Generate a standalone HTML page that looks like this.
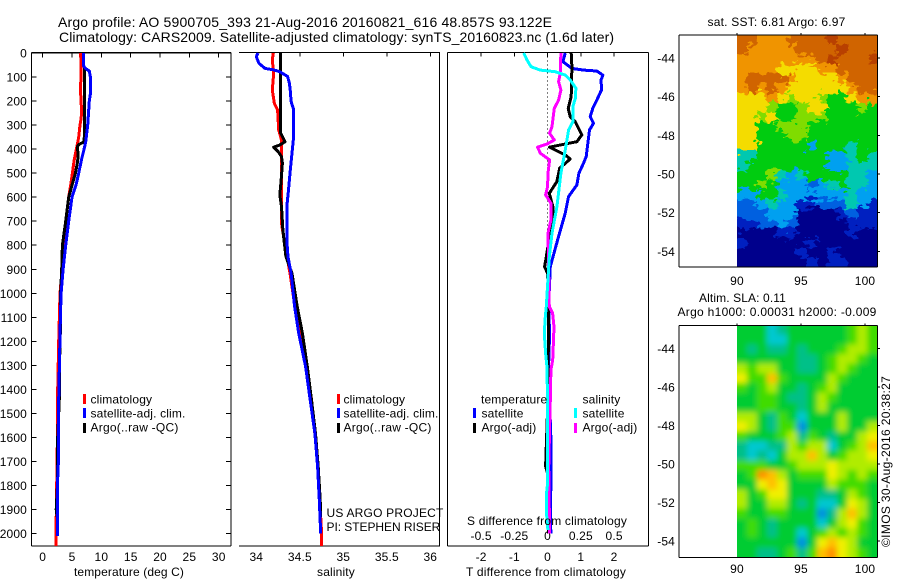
<!DOCTYPE html>
<html lang="en">
<head>
<meta charset="utf-8">
<title>Argo profile</title>
<style>
html,body{margin:0;padding:0;background:#fff;}
svg{display:block;}
text{font-family:"Liberation Sans",sans-serif;font-size:12px;fill:#000;letter-spacing:0.15px;}
.title{font-size:14px;letter-spacing:0;}
</style>
</head>
<body>
<svg id="chart" width="900" height="580" viewBox="0 0 900 580" xmlns="http://www.w3.org/2000/svg">
  <defs>
    <clipPath id="sstClip"><rect x="737" y="35" width="140" height="232"/></clipPath>
    <clipPath id="slaClip"><rect x="737" y="325" width="140" height="232"/></clipPath>
    <filter id="slaBlur" filterUnits="userSpaceOnUse" x="700" y="290" width="220" height="300"><feGaussianBlur stdDeviation="3"/></filter>
    <filter id="sstJag" filterUnits="userSpaceOnUse" x="700" y="5" width="210" height="295" color-interpolation-filters="sRGB">
      <feTurbulence type="fractalNoise" baseFrequency="0.14 0.22" numOctaves="2" seed="3" result="noise"/>
      <feDisplacementMap in="SourceGraphic" in2="noise" scale="16" xChannelSelector="R" yChannelSelector="G"/>
    </filter>
  </defs>
  <text class="title" x="58" y="27" textLength="494" lengthAdjust="spacing">Argo profile: AO 5900705_393 21-Aug-2016 20160821_616 48.857S 93.122E</text>
  <text class="title" x="59" y="42" textLength="555" lengthAdjust="spacing">Climatology: CARS2009. Satellite-adjusted climatology: synTS_20160823.nc (1.6d later)</text>

  <g id="heatmaps"></g>
  <g id="axes"></g>
  <g id="series"></g>

  <text x="74" y="576" textLength="110" lengthAdjust="spacing">temperature (deg C)</text>
  <text x="336" y="576" text-anchor="middle">salinity</text>
  <text x="466" y="576" textLength="160" lengthAdjust="spacing">T difference from climatology</text>
  <text x="467" y="525" textLength="160" lengthAdjust="spacing">S difference from climatology</text>

  <g>
    <rect x="83" y="394" width="3" height="10" fill="#f00"/><text x="90.5" y="403.5">climatology</text>
    <rect x="83" y="408" width="3" height="10" fill="#00f"/><text x="90.5" y="417.5" textLength="95" lengthAdjust="spacing">satellite-adj. clim.</text>
    <rect x="83" y="423" width="3" height="10" fill="#000"/><text x="90.5" y="431.5" textLength="88" lengthAdjust="spacing">Argo(..raw -QC)</text>
  </g>
  <g>
    <rect x="337" y="394" width="3" height="10" fill="#f00"/><text x="343.5" y="403.5">climatology</text>
    <rect x="337" y="408" width="3" height="10" fill="#00f"/><text x="343.5" y="417.5" textLength="95" lengthAdjust="spacing">satellite-adj. clim.</text>
    <rect x="337" y="423" width="3" height="10" fill="#000"/><text x="343.5" y="431.5" textLength="88" lengthAdjust="spacing">Argo(..raw -QC)</text>
  </g>
  <g>
    <text x="481" y="403.5">temperature</text>
    <rect x="473" y="408" width="3" height="10" fill="#00f"/><text x="481.5" y="417.5">satellite</text>
    <rect x="473" y="423" width="3" height="10" fill="#000"/><text x="481.5" y="431.5">Argo(-adj)</text>
    <text x="582.5" y="403.5">salinity</text>
    <rect x="574" y="408" width="3" height="10" fill="#0ff"/><text x="582.5" y="417.5">satellite</text>
    <rect x="574" y="423" width="3" height="10" fill="#f0f"/><text x="582.5" y="431.5">Argo(-adj)</text>
  </g>
  <text x="326.5" y="517" textLength="117" lengthAdjust="spacing">US ARGO PROJECT</text>
  <text x="326.5" y="531" textLength="114" lengthAdjust="spacing">PI: STEPHEN RISER</text>

  <text x="707.5" y="26" textLength="138" lengthAdjust="spacing">sat. SST: 6.81 Argo: 6.97</text>
  <text x="699" y="302" textLength="87" lengthAdjust="spacing">Altim. SLA: 0.11</text>
  <text x="677.5" y="316" textLength="199" lengthAdjust="spacing">Argo h1000: 0.00031 h2000: -0.009</text>
  <text transform="translate(890,547) rotate(-90)" textLength="171" lengthAdjust="spacing">©IMOS 30-Aug-2016 20:38:27</text>
</svg>

<script>
// ---------- depth ticks ----------
const depthTicks = [0,100,200,300,400,500,600,700,800,900,1000,1100,1200,1300,1400,1500,1600,1700,1800,1900,2000];
const tempTicks = [0,5,10,15,20,25,30];
const salTicks = [34,34.5,35,35.5,36];
const salTickLabels = ['34','34.5','35','35.5','36'];
const tDiffTicks = [-2,-1,0,1,2];
const sDiffTicks = [-0.5,-0.25,0,0.25,0.5];
const sDiffTickLabels = ['-0.5','-0.25','0','0.25','0.5'];
const lonTicks = [90,95,100];
const latTicks = [-44,-46,-48,-50,-52,-54];

// ---------- temperature panel ----------
const tempClimP = [0,100,150,250,280,300,350,400,450,500,550,600,700,800,900,1000,1200,1400,1600,1800,2000,2052];
const tempClimV = [6.48,6.53,6.42,6.65,6.5,6.36,6.14,5.74,5.34,5.06,4.77,4.43,3.92,3.52,3.3,2.95,2.73,2.56,2.5,2.39,2.27,2.27];
const tempSatP = [0,55,65,75,100,170,200,300,370,400,440,500,550,600,700,800,900,1000,1100,1300,1500,1700,1800,2010];
const tempSatV = [6.99,6.99,7.33,7.95,8.13,8.13,7.95,7.67,7.33,7.05,6.65,6.14,5.68,5.0,4.43,3.92,3.47,3.13,3.01,2.84,2.67,2.67,2.5,2.5];
const tempArgoP = [60,300,370,380,390,420,450,500,600,700,800,900,1000,1200,1300,1400,1600,1800,1900,1930];
const tempArgoV = [7.1,7.16,7.05,6.19,5.91,6.02,5.97,5.57,4.43,3.92,3.35,3.24,3.05,2.98,2.84,2.9,2.55,2.5,2.3,2.45];

// ---------- salinity panel ----------
const salClimP = [0,29,85,154,209,237,320,362,500,570,640,709,778,917,1055,1166,1305,1444,1721,1999,2052];
const salClimV = [34.195,34.184,34.2,34.184,34.207,34.245,34.257,34.29,34.29,34.29,34.287,34.29,34.32,34.387,34.444,34.51,34.578,34.636,34.709,34.75,34.75];
const salSatP = [0,15,43,64,70,78,98,126,154,202,230,362,417,500,570,640,778,848,917,1055,1166,1305,1444,1583,1721,1860,1999];
const salSatV = [34.02,34.0,34.03,34.1,34.195,34.27,34.36,34.38,34.39,34.4,34.425,34.425,34.41,34.387,34.37,34.35,34.35,34.364,34.4,34.44,34.487,34.567,34.62,34.674,34.705,34.724,34.74];
const salArgoP = [0,334,355,369,383,392,410,431,459,542,591,639,737,778,847,917,1055,1166,1305,1444,1583,1721,1860,1930];
const salArgoV = [34.28,34.28,34.31,34.33,34.27,34.2,34.25,34.29,34.3,34.283,34.27,34.29,34.306,34.318,34.34,34.41,34.47,34.53,34.586,34.635,34.68,34.712,34.735,34.74];

// ---------- difference panel ----------
const dTempSatP = [0,36,64,71,75,92,112,154,196,230,265,293,320,431,459,500,549,598,667,778,889,1055,1166,1305,1610,1790,1930,2000];
const dTempSatV = [0.53,0.46,0.73,1.08,1.48,1.66,1.61,1.62,1.48,1.36,1.28,1.38,1.26,1.16,1.08,0.94,0.88,0.63,0.53,0.3,0.08,0.03,0.06,0.03,0.1,0.1,0.08,0.1];
const dTempArgoP = [0,57,182,230,265,286,341,369,383,392,424,441,480,535,584,640,695,737,848,889,917,1055,1444,1720,1750,2000];
const dTempArgoV = [0.71,0.73,0.71,0.62,0.68,0.83,1.03,0.88,0.38,0.06,0.53,0.68,0.36,0.28,0.05,0.16,0.18,0.08,-0.04,-0.09,0,0.03,0.01,-0.06,0,0.03];
const dSalArgoP = [0,85,119,154,196,230,306,334,362,379,392,417,445,500,556,590,625,695,750,917,1055,1083,1139,1278,1319,1444,1721,1999];
const dSalArgoV = [0.1,0.095,0.083,0.1,0.083,0.05,0.033,0.015,0.05,-0.005,-0.075,-0.055,0.015,0.003,0,-0.015,0.025,0.025,0.003,0.008,0.0125,0.0376,0.048,0.038,0.025,0.02,0.008,0.015];
const dSalSatP = [0,29,57,71,78,92,112,147,189,223,286,320,403,500,640,750,848,1055,1097,1166,1250,1305,1444,1791,1833,1916,1985];
const dSalSatV = [-0.18,-0.155,-0.125,-0.055,0.058,0.133,0.17,0.213,0.208,0.19,0.19,0.158,0.133,0.1,0.07,0.033,0.0125,-0.01,-0.0175,-0.025,-0.015,-0.005,0,0,-0.008,-0.008,0.002];

// ---------- heatmap values (colour-ramp levels) ----------
const sstLevels = [
 [9,9,8,8,8,9,9,9,9,10,9,9,9,9],
 [9,8,8,8,8,8,9,9,9,9,10,9,9,9],
 [8,8,8,8,8,8,8,8,9,10,9,9,9,10],
 [8,8,8,8,7,7,7,7,8,8,9,9,9,9],
 [8,9,9,9,9,8,7,7,7,7,8,9,9,9],
 [8,9,8,9,8,7,7,7,7,7,7,8,9,9],
 [7,7,7,8,7,6,7,7,6,5,5,7,8,8],
 [7,7,7,6,5,5,6,7,7,5,5,5,6,5],
 [7,7,6,7,5,5,6,6,6,5,5,5,5,5],
 [7,7,5,5,6,6,6,5,5,5,5,5,5,5],
 [7,7,5,5,5,6,6,5,5,5,5,5,5,5],
 [7,7,5,5,5,5,5,3,5,5,5,4,5,5],
 [4,4,5,5,5,5,5,5,5,3,3,4,5,4],
 [4,5,5,5,5,5,5,5,5,3,3,4,4,4],
 [5,5,5,6,4,3,4,5,5,5,5,4,4,3],
 [5,5,6,5,3,3,3,2,3,4,5,4,4,3],
 [3,3,5,5,4,3,3,3,3,3,3,4,3,3],
 [2,2,3,4,3,3,1,1,2,2,2,4,3,1],
 [2,2,2,3,3,3,0,0,0,0,1,2,1,1],
 [1,1,2,2,3,2,0,0,0,0,0,1,1,1],
 [0,0,0,0,1,1,0,0,0,0,0,1,0,0],
 [1,0,0,0,0,0,0,1,0,0,0,0,0,0],
 [0,0,0,0,0,0,1,0,0,1,0,0,0,0],
 [0,0,0,0,0,0,0,1,0,1,1,0,0,0]
];
const slaLevels = [
 [3,3,3,1,2,3,3,3,3,3,3,4,5,4],
 [3,3,3,1,1,3,3,3,3,3,3,4,5,4],
 [3,2,3,2,2,3,2,3,3,3,4,5,5,4],
 [3,3,3,3,3,3,2,2,3,4,5,5,4,3],
 [5,4,5,5,3,3,2,2,3,4,5,4,3,3],
 [6,4,4,7,4,3,3,3,3,5,4,3,3,3],
 [4,3,4,5,3,3,2,3,4,5,3,3,3,3],
 [3,3,4,4,3,2,2,3,5,4,3,3,3,3],
 [3,3,4,4,3,3,2,3,5,3,3,3,3,3],
 [5,5,3,2,4,3,1,3,3,3,5,3,3,3],
 [6,5,3,2,4,4,0,3,3,3,5,3,3,5],
 [4,3,3,3,4,5,2,4,3,2,3,3,5,6],
 [2,1,1,2,2,5,4,5,5,1,3,4,5,7],
 [2,1,2,1,3,5,5,7,5,3,4,5,5,6],
 [4,4,4,3,3,4,5,5,5,6,5,5,5,5],
 [3,4,8,7,5,3,4,4,4,6,5,4,5,4],
 [3,3,6,7,6,3,3,3,3,5,4,4,4,3],
 [5,3,4,6,6,3,3,3,2,2,3,5,4,3],
 [5,3,3,5,5,3,2,3,1,1,3,6,5,3],
 [4,3,3,4,4,3,3,3,0,2,5,7,5,3],
 [3,4,3,2,3,3,3,3,1,3,5,6,4,3],
 [3,4,3,2,3,3,1,3,4,5,4,5,4,3],
 [3,3,3,3,3,3,0,3,6,7,6,5,3,3],
 [3,3,2,2,3,4,2,4,7,8,6,5,4,3]
];
const sstRamp = ['#00008c','#0020c0','#0060e0','#00a0f0','#00c8b0','#00cc10','#80dc00','#f4dc00','#f09400','#d06400','#b84000'];
const slaRamp = ['#0090e0','#00c8d0','#00c088','#00cc30','#40dc00','#b0ec00','#f0f000','#ffc000','#ff9000'];

// ---------- axis functions ----------
function yDepth(p){ return 53 + 0.2403 * p; }
function xTemp(t){ return 42.7 + 5.867 * t; }
function xSal(s){ return 256.3 + 87 * (s - 34); }
function xDT(t){ return 547.6 + 33.25 * t; }
function xDS(s){ return 547.6 + 133 * s; }
function xLon(l){ return 737 + 12.8 * (l - 90); }
function ySst(lat){ return 58 + 19.33 * (-44 - lat); }
function ySla(lat){ return 348.3 + 19.27 * (-44 - lat); }

const NS = 'http://www.w3.org/2000/svg';
const axesG = document.getElementById('axes');
const seriesG = document.getElementById('series');
const mapsG = document.getElementById('heatmaps');

function mk(tag, attrs, parent){
  const el = document.createElementNS(NS, tag);
  for (const k in attrs) el.setAttribute(k, attrs[k]);
  parent.appendChild(el);
  return el;
}
function line(x1,y1,x2,y2,w,name){
  const el = mk('line',{x1:x1,y1:y1,x2:x2,y2:y2,stroke:'#000','stroke-width':w,'shape-rendering':'crispEdges'},axesG);
  
  
  return el;
}
function label(x,y,str,anchor,name){
  const el = mk('text',{x:x,y:y,'text-anchor':anchor},axesG);
  el.textContent = str;
  
  
  return el;
}
function profile(pArr,vArr,xf,color,width,name){
  const pts = pArr.map((p,i)=>xf(vArr[i]).toFixed(1)+','+yDepth(p).toFixed(1)).join(' ');
  const el = mk('polyline',{points:pts,fill:'none',stroke:color,'stroke-width':width,'shape-rendering':'crispEdges','stroke-linejoin':'round'},seriesG);
  
  
  return el;
}

// ---------- panel frames ----------
const panelTop = 52.5, panelBot = 546;
// temperature panel
line(31.5,panelTop,231,panelTop,1.5,'temperature-top-axis');
line(31.5,panelBot,231,panelBot,1,'temperature-bottom-axis');
line(31.5,panelTop,31.5,panelBot,1,'temperature-left-axis');
line(231,panelTop,231,panelBot,1,'temperature-right-axis');
depthTicks.forEach(p=>{
  line(31.5,yDepth(p),36.5,yDepth(p),1,'temperature-depth-tick');
  line(226,yDepth(p),231,yDepth(p),1,'temperature-depth-tick-right');
  label(27,yDepth(p)+4.5,String(p),'end','depth-tick-label');
});
tempTicks.forEach(t=>{
  line(xTemp(t),panelTop,xTemp(t),panelTop+5,1,'temperature-tick');
  label(xTemp(t),561,String(t),'middle','temperature-tick-label');
});
// salinity panel
line(239,panelTop,440,panelTop,1,'salinity-top-axis');
line(239,panelBot,440,panelBot,1,'salinity-bottom-axis');
line(439.7,panelTop,439.7,panelBot,1,'salinity-right-axis');
salTicks.forEach((s,i)=>{
  line(xSal(s),panelTop,xSal(s),panelTop+4,1,'salinity-tick');
  label(xSal(s),561,salTickLabels[i],'middle','salinity-tick-label');
});
// difference panel
line(447.5,panelTop,648.5,panelTop,1,'difference-top-axis');
line(447.5,panelBot,648.5,panelBot,1,'difference-bottom-axis');
line(447.5,panelTop,447.5,panelBot,1,'difference-left-axis');
line(648.5,panelTop,648.5,panelBot,1,'difference-right-axis');
tDiffTicks.forEach(t=>{
  line(xDT(t),panelTop,xDT(t),panelTop+4,1,'t-difference-tick');
  label(xDT(t),561,String(t),'middle','t-difference-tick-label');
});
sDiffTicks.forEach((s,i)=>{
  label(xDS(s),540,sDiffTickLabels[i],'middle','s-difference-tick-label');
});
const zeroLine = mk('line',{x1:xDT(0),y1:panelTop,x2:xDT(0),y2:yDepth(2000),stroke:'#000','stroke-width':1,'stroke-dasharray':'1 3','shape-rendering':'crispEdges'},seriesG);



// ---------- series ----------
profile(tempClimP,tempClimV,xTemp,'#f00',3,'temperature-climatology-line');
profile(tempArgoP,tempArgoV,xTemp,'#000',3,'temperature-argo-line');
profile(tempSatP,tempSatV,xTemp,'#00f',3,'temperature-satellite-line');
profile(salClimP,salClimV,xSal,'#f00',3,'salinity-climatology-line');
profile(salArgoP,salArgoV,xSal,'#000',3,'salinity-argo-line');
profile(salSatP,salSatV,xSal,'#00f',3,'salinity-satellite-line');
profile(dTempSatP,dTempSatV,xDT,'#00f',3,'t-difference-satellite-line');
profile(dTempArgoP,dTempArgoV,xDT,'#000',3,'t-difference-argo-line');
profile(dSalArgoP,dSalArgoV,xDS,'#f0f',3,'s-difference-argo-line');
profile(dSalSatP,dSalSatV,xDS,'#0ff',3,'s-difference-satellite-line');

// ---------- heatmaps ----------
function drawCells(grid,ramp,x0,y0,w,h,parent,name){
  const cw = w / grid[0].length, ch = h / grid.length;
  grid.forEach((row,r)=>row.forEach((v,c)=>{
    let x = x0 + c*cw, y = y0 + r*ch, cwd = cw + 0.5, chd = ch + 0.5;
    if (c===0){ x -= 20; cwd += 20; }
    if (c===row.length-1){ cwd += 20; }
    if (r===0){ y -= 20; chd += 20; }
    if (r===grid.length-1){ chd += 20; }
    const el = mk('rect',{x:x.toFixed(2),y:y.toFixed(2),width:cwd.toFixed(2),height:chd.toFixed(2),fill:ramp[v],'shape-rendering':'crispEdges'},parent);
    
    
  }));
}
const sstClipG = mk('g',{'clip-path':'url(#sstClip)'},mapsG);


const sstG = mk('g',{filter:'url(#sstJag)'},sstClipG);
drawCells(sstLevels,sstRamp,737,35,140,232,sstG,'sst-cell');
const slaClip = mk('g',{'clip-path':'url(#slaClip)'},mapsG);


const slaG = mk('g',{filter:'url(#slaBlur)'},slaClip);
drawCells(slaLevels,slaRamp,737,325,140,232,slaG,'sla-cell');

// ---------- map frames ----------
function mapFrame(y0,y1,yf,prefix,lblY){
  line(679,y0,877.5,y0,1,prefix+'-top-axis');
  line(679,y1,877.5,y1,1,prefix+'-bottom-axis');
  line(679,y0,679,y1,1,prefix+'-left-axis');
  line(877.5,y0,877.5,y1,1,prefix+'-right-axis');
  latTicks.forEach(l=>{
    line(877.5,yf(l),880,yf(l),1,prefix+'-lat-tick');
    label(675,yf(l)+4.5,String(l),'end',prefix+'-lat-label');
  });
  lonTicks.forEach(l=>{
    line(xLon(l),y0-2,xLon(l),y0,1,prefix+'-lon-tick');
    label(xLon(l),lblY,String(l),'middle',prefix+'-lon-label');
  });
}
mapFrame(35,267,ySst,'sst-map',285);
mapFrame(325.3,557.3,ySla,'sla-map',573);
</script>
</body>
</html>
